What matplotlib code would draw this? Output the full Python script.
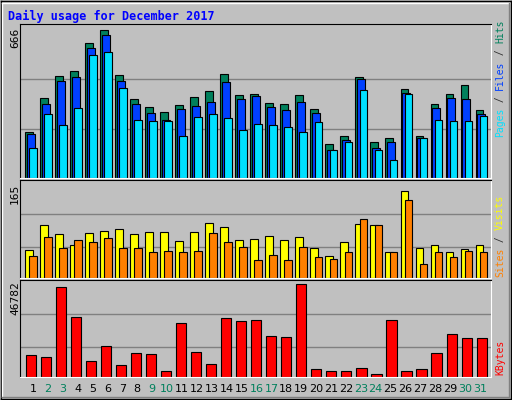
import matplotlib
matplotlib.use("Agg")
import matplotlib.pyplot as plt
import numpy as np
from matplotlib.lines import Line2D

days = list(range(1, 32))
weekend = [2, 3, 9, 10, 16, 17, 23, 24, 30, 31]
hits_max, sv_max, kb_max = 666, 165, 46782

hits_z = [331,232,166,151,67,28,163,235,259,274,253,229,211,160,223,220,247,250,223,265,370,346,169,361,349,205,343,250,220,193,268]
files_z = [340,250,181,169,82,43,181,250,277,298,265,256,244,184,235,226,259,268,244,277,385,358,175,382,361,217,349,262,232,235,280]
pages_z = [382,280,313,262,103,94,202,298,301,301,343,289,280,292,328,310,313,319,331,304,388,361,208,388,415,220,349,298,301,301,286]
hits = [round((470 - z) * 666 / 442) for z in hits_z]
files = [round((470 - z) * 666 / 442) for z in files_z]
pages = [round((470 - z) * 666 / 442) for z in pages_z]

sites = [49,92,77,57,78,82,85,77,80,80,65,80,97,89,67,69,74,67,72,53,38,63,95,93,46,153,53,57,46,50,57]
visits = [38,72,52,67,63,70,53,53,46,48,46,48,78,63,55,32,40,32,55,37,34,45,104,93,46,136,25,45,37,48,45]

kbytes = [10900,9900,45200,30300,7900,15500,5800,12000,11500,2800,27300,12500,6300,29800,28300,28800,20600,20100,46782,3800,3200,2800,4300,1700,28800,2800,3800,12000,21700,19600,19600]

fig = plt.figure(figsize=(5.12, 4.0), dpi=100)
fig.patch.set_facecolor("#c0c0c0")
W, H = 512, 400
def ax_px(x0, y0, x1, y1):
    return fig.add_axes([x0 / W, 1 - y1 / H, (x1 - x0) / W, (y1 - y0) / H])

for (xs, ys, c) in [([1, 511], [399, 399], "black"), ([1, 1], [0, 399], "black"),
                    ([511, 511], [0, 399], "black"), ([1, 511], [1, 1], "black"),
                    ([2, 509], [397, 397], "white"), ([2, 2], [3, 397], "white"),
                    ([509, 509], [3, 397], "#808080"), ([2, 509], [3, 3], "#808080")]:
    fig.add_artist(Line2D([x / W for x in xs], [y / H for y in ys], color=c, lw=1))

x = np.array(days, dtype=float)
mono = "DejaVu Sans Mono"

def style(ax, mx, fr):
    ax.set_facecolor("#c0c0c0")
    ax.set_xlim(0.247, 31.63)
    ax.set_ylim(0, mx * 1.04)
    for f in fr:
        ax.axhline(mx * f, color="#808080", lw=1, zorder=0)
    ax.set_xticks([]); ax.set_yticks([])
    for s in ["left", "top"]:
        ax.spines[s].set_color("black")
    for s in ["right", "bottom"]:
        ax.spines[s].set_color("white")

ax1 = ax_px(20, 24, 491, 178)
style(ax1, hits_max, [1/3, 2/3])
ek = dict(edgecolor="black", linewidth=0.8, width=0.49, align="edge")
ax1.bar(x - 0.4, hits, color="#00805c", **ek)
ax1.bar(x - 0.27, files, color="#0040ff", **ek)
ax1.bar(x - 0.13, pages, color="#00e0ff", **ek)

ax2 = ax_px(20, 180, 491, 278)
style(ax2, sv_max, [0.33, 0.68])
ax2.bar(x - 0.4, sites, color="#ffff00", edgecolor="black", linewidth=0.8, width=0.53, align="edge")
ax2.bar(x - 0.13, visits, color="#ff8000", edgecolor="black", linewidth=0.8, width=0.49, align="edge")

ax3 = ax_px(20, 280, 491, 377)
style(ax3, kb_max, [0.32, 0.68])
ax3.bar(x, kbytes, color="#ff0000", edgecolor="black", linewidth=0.8, width=0.67)

fig.text(8 / W, 1 - 16 / H, "Daily usage for December 2017", color="#0000ff",
         fontsize=8.5, fontweight="bold", family=mono, va="center")
for txt, yc in [("666", 38), ("165", 194), ("46782", 298)]:
    fig.text(15 / W, 1 - yc / H, txt, rotation=90, ha="center", va="center",
             fontsize=8, family=mono)

def vlabel(parts, ybottom):
    y = ybottom
    for t, c in parts:
        fig.text(500 / W, 1 - y / H, t, rotation=90, color=c, ha="center",
                 va="bottom", fontsize=7, family=mono)
        y -= len(t) * 5.85

vlabel([("Pages", "#00e0ff"), (" / ", "#303030"), ("Files", "#0040ff"),
        (" / ", "#303030"), ("Hits", "#00805c")], 137)
vlabel([("Sites", "#ff8000"), (" / ", "#303030"), ("Visits", "#ffff00")], 277)
vlabel([("KBytes", "#ff0000")], 375)

for d in days:
    xp = 33 + (d - 1) * 14.9
    fig.text(xp / W, 1 - 389 / H, str(d), ha="center", va="center", fontsize=8,
             family="DejaVu Sans", color="#00805c" if d in weekend else "black")

fig.savefig("out.png", dpi=100, facecolor=fig.get_facecolor())
